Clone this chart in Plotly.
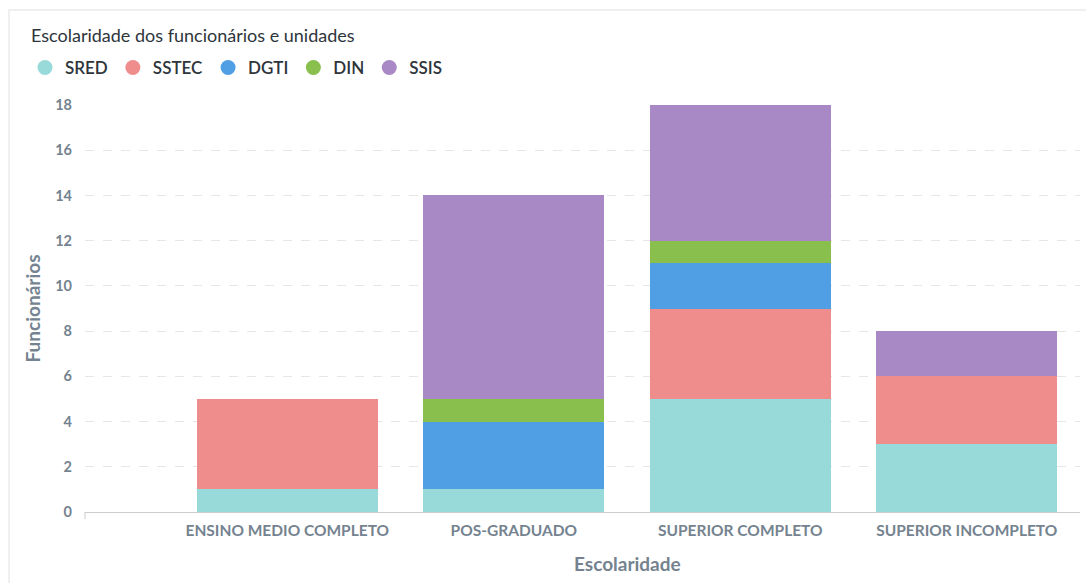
import plotly.graph_objects as go

categories = ["ENSINO MEDIO COMPLETO", "POS-GRADUADO", "SUPERIOR COMPLETO", "SUPERIOR INCOMPLETO"]
units = ["SRED", "SSTEC", "DGTI", "DIN", "SSIS"]
sred = [1, 1, 5, 3]
sstec = [4, 0, 4, 3]
dgti = [0, 3, 2, 0]
din = [0, 1, 1, 0]
ssis = [0, 9, 6, 2]
y_ticks = [0, 2, 4, 6, 8, 10, 12, 14, 16, 18]

series = [sred, sstec, dgti, din, ssis]
colors = ["#98D9D9", "#EF8C8C", "#509EE3", "#88BF4D", "#A989C5"]

W, H = 1086, 583
L, R, T, B = 85, 6, 105, 71
PW, PH = W - L - R, H - T - B
x_lo, x_hi = -0.5 - 89 / 226.3, 3.5

fig = go.Figure()
for name, vals, col in zip(units, series, colors):
    fig.add_trace(go.Bar(
        x=categories, y=vals, name=name, marker=dict(color=col, line=dict(width=0)),
        showlegend=False,
    ))
    # circular legend markers
    fig.add_trace(go.Scatter(
        x=[None], y=[None], mode="markers", name=name,
        marker=dict(color=col, size=15, symbol="circle"), showlegend=True,
    ))

font_fam = "Lato, 'Noto Sans', sans-serif"
axis_col = "#74838F"

# x-axis title sits centred over the span of the categories
cat_mid = ((-0.5 + 3.5) / 2 - x_lo) / (x_hi - x_lo)

fig.update_layout(
    width=W, height=H,
    margin=dict(l=L, r=R, t=T, b=B, autoexpand=False),
    barmode="stack", bargap=0.2,
    paper_bgcolor="white", plot_bgcolor="white",
    font=dict(family=font_fam),
    title=dict(
        text="Escolaridade dos funcionários e unidades",
        font=dict(size=18, color="#2E353B", family=font_fam),
        xref="container", x=31 / W, xanchor="left",
        yref="container", y=1 - 36 / H, yanchor="middle",
    ),
    legend=dict(
        orientation="h", traceorder="normal",
        xref="container", x=25 / W, xanchor="left",
        yref="container", y=1 - 68 / H, yanchor="middle",
        font=dict(size=17, color="#2E353B", family=font_fam, weight=600),
        itemwidth=30, tracegroupgap=0, bgcolor="rgba(0,0,0,0)",
    ),
    xaxis=dict(
        type="category", categoryorder="array", categoryarray=categories,
        range=[x_lo, x_hi],
        showgrid=False, showline=True, linecolor="#CCCCCC", linewidth=1,
        ticks="", ticklabelstandoff=4,
        tickfont=dict(size=15.5, color=axis_col, family=font_fam, weight="bold"),
        zeroline=False, fixedrange=True,
    ),
    yaxis=dict(
        range=[0, 18], tickvals=y_ticks,
        showgrid=True, gridcolor="#E6E6E6", griddash="dash", gridwidth=1,
        showline=False, zeroline=False, ticks="",
        ticklabelstandoff=12,
        tickfont=dict(size=14.5, color=axis_col, family=font_fam, weight="bold"),
        title=dict(text="Funcionários", font=dict(size=19, color=axis_col, family=font_fam, weight="bold"), standoff=9),
    ),
    annotations=[
        dict(text="Escolaridade", xref="paper", yref="paper",
             x=cat_mid, y=-(563 - (H - B)) / PH, xanchor="center", yanchor="middle",
             showarrow=False,
             font=dict(size=19, color=axis_col, family=font_fam, weight="bold")),
    ],
    shapes=[
        # card outline
        dict(type="rect", xref="paper", yref="paper",
             x0=(9 - L) / PW, x1=(1100 - L) / PW,
             y0=(H - B - 600) / PH, y1=(H - B - 10) / PH,
             line=dict(color="#E8EAED", width=1.5), layer="below"),
        # small tick at axis start
        dict(type="line", xref="paper", yref="paper", x0=0, x1=0,
             y0=0, y1=-7 / PH, line=dict(color="#CCCCCC", width=1)),
    ],
)

fig.write_html("out.html")
